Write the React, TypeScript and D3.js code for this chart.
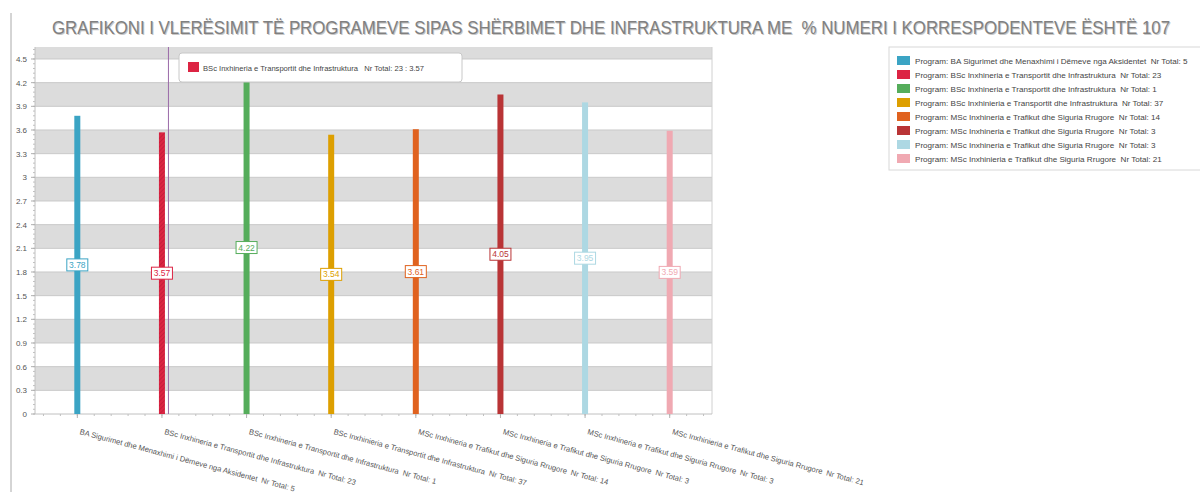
import React from 'react';
import * as d3 from 'd3';

const programs = [
  'BA Sigurimet dhe Menaxhimi i Dëmeve nga Aksidentet',
  'BSc Inxhineria e Transportit dhe Infrastruktura',
  'BSc Inxhineria e Transportit dhe Infrastruktura',
  'BSc Inxhinieria e Transportit dhe Infrastruktura',
  'MSc Inxhineria e Trafikut dhe Siguria Rrugore',
  'MSc Inxhineria e Trafikut dhe Siguria Rrugore',
  'MSc Inxhineria e Trafikut dhe Siguria Rrugore',
  'MSc Inxhinieria e Trafikut dhe Siguria Rrugore',
];
const totals = [5, 23, 1, 37, 14, 3, 3, 21];
const values = [3.78, 3.57, 4.22, 3.54, 3.61, 4.05, 3.95, 3.59];
const colors = ['#3ba4c4', '#dc2443', '#55ad5b', '#dd9f00', '#e0621f', '#b93436', '#add8e3', '#f0a9b2'];
const yTicks = [0, 0.3, 0.6, 0.9, 1.2, 1.5, 1.8, 2.1, 2.4, 2.7, 3, 3.3, 3.6, 3.9, 4.2, 4.5];

const title = 'GRAFIKONI I VLERËSIMIT TË PROGRAMEVE SIPAS SHËRBIMET DHE INFRASTRUKTURA ME  % NUMERI I KORRESPODENTEVE ËSHTË 107';
const hovered = 1;

const font = '"Liberation Sans", Arial, sans-serif';

export default function App() {
  const W = 1200, H = 492;
  const left = 35, right = 712, top = 47, bottom = 414;
  const yMax = 4.652;

  const x = d3.scaleBand<number>().domain(d3.range(programs.length)).range([left, right]);
  const y = d3.scaleLinear().domain([0, yMax]).range([bottom, top]);
  const bw = x.bandwidth();
  const cx = (i: number) => (x(i) as number) + bw / 2;

  const bands: [number, number][] = [];
  for (let v = 0.3; v < yMax; v += 0.6) bands.push([v, Math.min(v + 0.3, yMax)]);

  const minorY = d3.range(0, yMax, 0.06);
  const minorX = d3.range(0, programs.length * 5).map((k) => left + bw / 10 + (k * bw) / 5);

  return (
    <svg width={W} height={H} style={{ position: 'absolute', left: 0, top: 0, fontFamily: font }}>
      <defs>
        <pattern id="hatch" width="3" height="3" patternUnits="userSpaceOnUse" patternTransform="rotate(45)">
          <rect width="3" height="3" fill={colors[1]} />
          <line x1="0" y1="0" x2="0" y2="3" stroke="#b01830" strokeWidth="1" />
        </pattern>
      </defs>

      <line x1={11} x2={11} y1={13} y2={H} stroke="#aaa" />

      {/* title with a soft offset shadow */}
      <text x={612} y={35} textAnchor="middle" fontSize={18} fill="#c8c8c8" textLength={1118}
        lengthAdjust="spacingAndGlyphs" xmlSpace="preserve">{title}</text>
      <text x={611} y={34} textAnchor="middle" fontSize={18} fill="#808080" textLength={1118}
        lengthAdjust="spacingAndGlyphs" xmlSpace="preserve">{title}</text>

      {/* plot background */}
      <rect x={left} y={top} width={right - left} height={bottom - top} fill="#fff" />
      {bands.map(([a, b], i) => (
        <rect key={i} x={left} y={y(b)} width={right - left} height={y(a) - y(b)} fill="#dcdcdc" />
      ))}
      {yTicks.slice(1).map((t) => (
        <line key={t} x1={left} x2={right} y1={y(t)} y2={y(t)} stroke="#c9c9c9" />
      ))}
      <line x1={right} x2={right} y1={top} y2={bottom} stroke="#d0d0d0" />

      {/* y axis */}
      <line x1={left} x2={left} y1={top} y2={bottom} stroke="#c0c0c0" />
      {minorY.map((t, i) => (
        <line key={i} x1={left - 2} x2={left} y1={y(t)} y2={y(t)} stroke="#c0c0c0" />
      ))}
      {yTicks.map((t) => (
        <g key={t}>
          <line x1={left - 4} x2={left} y1={y(t)} y2={y(t)} stroke="#b0b0b0" />
          <text x={27} y={y(t) + 3} textAnchor="end" fontSize={8} fill="#555">{String(t)}</text>
        </g>
      ))}

      {/* x axis */}
      <line x1={left} x2={right} y1={bottom} y2={bottom} stroke="#c0c0c0" />
      {minorX.map((px, i) => (
        <line key={i} x1={px} x2={px} y1={bottom} y2={bottom + 2} stroke="#c0c0c0" />
      ))}
      {programs.map((_, i) => (
        <line key={i} x1={cx(i)} x2={cx(i)} y1={bottom} y2={bottom + 4} stroke="#b0b0b0" />
      ))}
      {programs.map((p, i) => (
        <text key={i} transform={`translate(${cx(i) + 2},${bottom + 20}) rotate(15)`} fontSize={7.6} fill="#555"
          xmlSpace="preserve">{`${p}  Nr Total: ${totals[i]}`}</text>
      ))}

      {/* bars */}
      {values.map((v, i) => (
        <rect key={i} x={cx(i) - 3} y={y(v)} width={6} height={bottom - y(v)}
          fill={i === hovered ? 'url(#hatch)' : colors[i]} />
      ))}

      {/* crosshair */}
      <line x1={cx(hovered) + 6.5} x2={cx(hovered) + 6.5} y1={top} y2={bottom} stroke="#9b6aa8" strokeWidth={1} />

      {/* value labels */}
      {values.map((v, i) => {
        const label = v.toFixed(2);
        const w = 21;
        return (
          <g key={i} transform={`translate(${cx(i)},${y(v / 2)})`}>
            <rect x={-w / 2} y={-6} width={w} height={12} fill="#fff" stroke={colors[i]} />
            <text x={0} y={3} textAnchor="middle" fontSize={8.5} fill={colors[i]}>{label}</text>
          </g>
        );
      })}

      {/* tooltip */}
      <g>
        <rect x={179} y={53} width={283} height={29} rx={3} fill="#fff" stroke="#c8c8c8" />
        <rect x={188} y={62} width={11} height={10} fill={colors[hovered]} />
        <text x={203} y={71} fontSize={7.6} fill="#444" xmlSpace="preserve">
          {`${programs[hovered]}   Nr Total: ${totals[hovered]} : ${values[hovered]}`}
        </text>
      </g>

      {/* legend */}
      <g>
        <rect x={889} y={47} width={320} height={123} fill="#fff" stroke="#d8d8d8" />
        {programs.map((p, i) => (
          <g key={i} transform={`translate(897,${56 + i * 14})`}>
            <rect x={0} y={0} width={13} height={9} fill={colors[i]} />
            <text x={18} y={8} fontSize={8.1} fill="#444" xmlSpace="preserve">{`Program: ${p}  Nr Total: ${totals[i]}`}</text>
          </g>
        ))}
      </g>
    </svg>
  );
}
